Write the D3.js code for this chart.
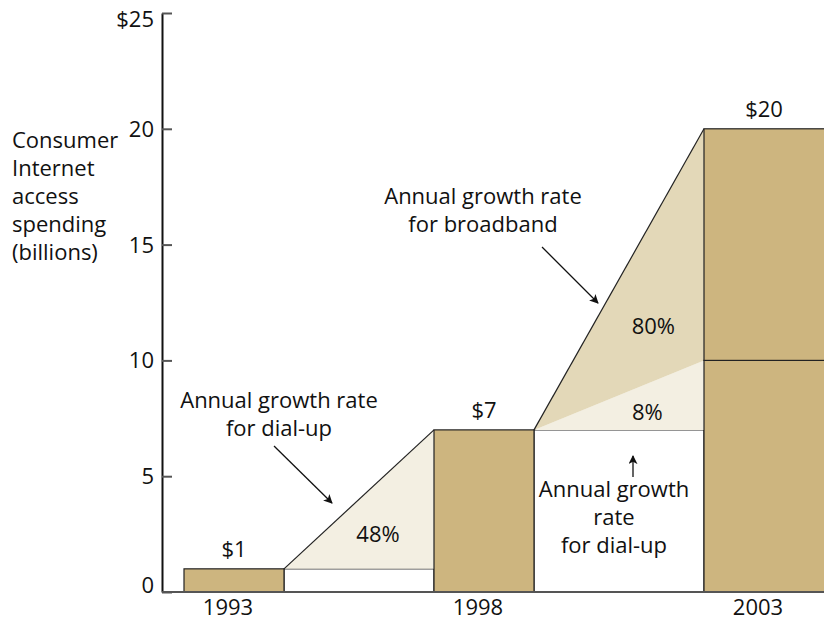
<!DOCTYPE html>
<html>
<head>
<meta charset="utf-8">
<script src="https://cdn.jsdelivr.net/npm/d3@7"></script>
<style>
  html, body { margin: 0; padding: 0; background: #fff; }
  svg { display: block; font-family: "Open Sans", "Noto Sans", sans-serif; }
  text { fill: #111; }
</style>
</head>
<body>
<svg id="chart" width="824" height="621"></svg>
<script>
// Consumer Internet access spending, billions of dollars
const years = [1993, 1998, 2003];
const dialUp = [1, 7, 10];
const broadband = [0, 0, 10];
// Annual growth rates over each five-year step (index = step starting year)
const dialUpGrowth = ["48%", "8%"];
const broadbandGrowth = [null, "80%"];
const yTicks = [0, 5, 10, 15, 20, 25];
const titleLines = ["Consumer", "Internet", "access", "spending", "(billions)"];

const W = 824, H = 621;
const FS = 22;
const svg = d3.select("#chart");

const COL_BAR = "#cdb57f";
const COL_BROAD = "#e3d8b8";
const COL_DIAL = "#f3efe2";
const COL_LINE = "#222";

const totals = years.map((_, i) => dialUp[i] + broadband[i]);

const y = d3.scaleLinear().domain([0, 25]).range([592, 13]);
// left edge of each year's bar
const x = d3.scaleLinear().domain(years).range([184, 434, 704]);
const barW = 100;
const barWidth = i => i === years.length - 1 ? W + 10 - x(years[i]) : barW;
const barRight = i => x(years[i]) + barWidth(i);
const labelX = i => i === years.length - 1 ? (x(years[i]) + W) / 2 : x(years[i]) + barW / 2;

// arrow marker
svg.append("defs").append("marker")
  .attr("id", "arrow").attr("viewBox", "0 0 10 10")
  .attr("refX", 9).attr("refY", 5)
  .attr("markerWidth", 9).attr("markerHeight", 9)
  .attr("markerUnits", "userSpaceOnUse")
  .attr("orient", "auto")
  .append("path").attr("d", "M0,0 L10,5 L0,10 L2.5,5 Z").attr("fill", "#111");

const g = svg.append("g");

// carry-over boxes and growth wedges between consecutive years
for (let i = 0; i < years.length - 1; i++) {
  const x0 = barRight(i), x1 = x(years[i + 1]);
  const base = totals[i];
  // white box holding the previous year's level
  g.append("rect")
    .attr("x", x0).attr("y", y(base))
    .attr("width", x1 - x0).attr("height", y(0) - y(base))
    .attr("fill", "#fff").attr("stroke", COL_LINE).attr("stroke-width", 1.2);

  // dial-up growth wedge
  const dTop = dialUp[i + 1] + broadband[i];
  g.append("path")
    .attr("d", d3.line()([[x0, y(base)], [x1, y(base)], [x1, y(dTop)]]) + "Z")
    .attr("fill", COL_DIAL);

  // broadband growth wedge on top
  const bTop = totals[i + 1];
  if (bTop > dTop) {
    g.append("path")
      .attr("d", d3.line()([[x0, y(base)], [x1, y(dTop)], [x1, y(bTop)]]) + "Z")
      .attr("fill", COL_BROAD);
  }
  // outer edge of the wedge
  g.append("path")
    .attr("d", d3.line()([[x0, y(base)], [x1, y(bTop)]]))
    .attr("fill", "none").attr("stroke", COL_LINE).attr("stroke-width", 1.2);
}

// bars: dial-up segment with broadband stacked above
years.forEach((yr, i) => {
  g.append("rect")
    .attr("x", x(yr)).attr("y", y(dialUp[i]))
    .attr("width", barWidth(i)).attr("height", y(0) - y(dialUp[i]))
    .attr("fill", COL_BAR).attr("stroke", COL_LINE).attr("stroke-width", 1.2);
  if (broadband[i] > 0) {
    g.append("rect")
      .attr("x", x(yr)).attr("y", y(totals[i]))
      .attr("width", barWidth(i)).attr("height", y(dialUp[i]) - y(totals[i]))
      .attr("fill", COL_BAR).attr("stroke", COL_LINE).attr("stroke-width", 1.2);
  }
  // total label
  svg.append("text")
    .attr("x", labelX(i)).attr("y", y(totals[i]) - 12)
    .attr("text-anchor", "middle").attr("font-size", FS)
    .text("$" + totals[i]);
  // year label
  svg.append("text")
    .attr("x", labelX(i) - 6).attr("y", 615)
    .attr("text-anchor", "middle").attr("font-size", FS)
    .text(yr);
});

// growth rate labels inside the wedges
const pct = (t, px, py) => svg.append("text")
  .attr("x", px).attr("y", py).attr("text-anchor", "middle")
  .attr("font-size", FS).text(t);

dialUpGrowth.forEach((t, i) => {
  const x0 = barRight(i), x1 = x(years[i + 1]);
  const base = totals[i], top = dialUp[i + 1] + broadband[i];
  if (broadbandGrowth[i]) {
    // thin dial-up wedge: label sits just above its base line
    pct(t, (x0 + 2 * x1) / 3, y(base) - 10);
  } else {
    const cy = (2 * y(base) + y(top)) / 3;
    pct(t, (x0 + 2 * x1) / 3 - 6, cy + 19);
  }
});
broadbandGrowth.forEach((t, i) => {
  if (!t) return;
  const x0 = barRight(i), x1 = x(years[i + 1]);
  const cy = (y(totals[i]) + y(dialUp[i + 1]) + y(totals[i + 1])) / 3;
  pct(t, (x0 + 2 * x1) / 3 + 6, cy + 28);
});

// axes
const yAxis = d3.axisLeft(y)
  .tickValues(yTicks)
  .tickFormat(d => d === 25 ? "$25" : d)
  .tickSizeInner(-10).tickSizeOuter(0).tickPadding(8);
const ya = svg.append("g").attr("transform", "translate(162,0)").call(yAxis);
ya.select(".domain").attr("stroke", "#111").attr("stroke-width", 2);
ya.selectAll(".tick line").attr("stroke", "#555").attr("stroke-width", 2);
ya.selectAll(".tick text")
  .attr("font-size", FS).attr("font-family", "'Open Sans', sans-serif").attr("fill", "#111")
  .attr("dy", d => d === 25 ? "0.6em" : d === 0 ? "0.02em" : "0.34em");

// baseline
svg.append("line")
  .attr("x1", 162).attr("x2", W).attr("y1", y(0)).attr("y2", y(0))
  .attr("stroke", "#555").attr("stroke-width", 2);

// y-axis title
svg.append("text").attr("font-size", FS)
  .selectAll("tspan").data(titleLines).join("tspan")
  .attr("x", 12).attr("y", (d, i) => 148 + i * 28).text(d => d);

// annotations
function note(lines, cx, cy0) {
  svg.append("text").attr("text-anchor", "middle").attr("font-size", FS)
    .selectAll("tspan").data(lines).join("tspan")
    .attr("x", cx).attr("y", (d, i) => cy0 + i * 28).text(d => d);
}
function arrow(x1, y1, x2, y2) {
  svg.append("line").attr("x1", x1).attr("y1", y1).attr("x2", x2).attr("y2", y2)
    .attr("stroke", "#111").attr("stroke-width", 1.3).attr("marker-end", "url(#arrow)");
}
note(["Annual growth rate", "for dial-up"], 279, 408);
arrow(274, 446, 332, 503);
note(["Annual growth rate", "for broadband"], 483, 204);
arrow(542, 247, 598, 303);
note(["Annual growth", "rate", "for dial-up"], 614, 497);
arrow(633, 477, 633, 456);
</script>
</body>
</html>
